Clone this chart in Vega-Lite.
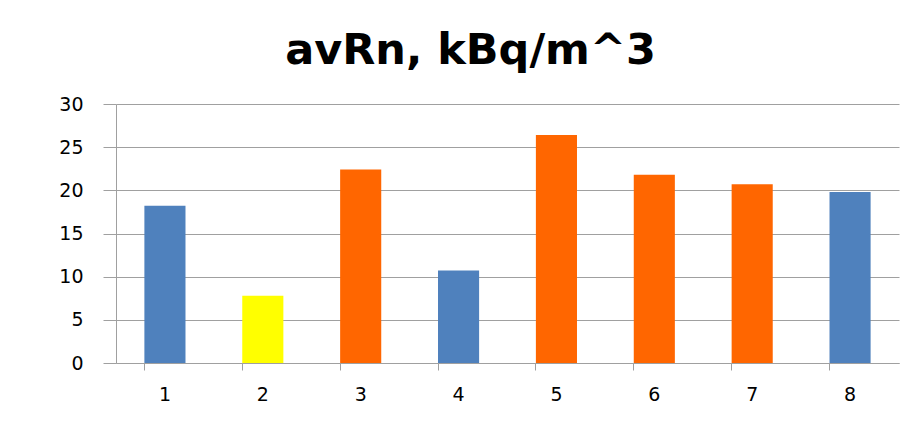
{
  "$schema": "https://vega.github.io/schema/vega-lite/v6.json",
  "width": 783,
  "height": 259,
  "autosize": "none",
  "padding": {"left": 116, "top": 104, "right": 18, "bottom": 67},
  "background": "white",
  "title": {
    "text": "avRn, kBq/m^3",
    "font": "DejaVu Sans",
    "fontSize": 43,
    "fontWeight": "bold",
    "color": "black",
    "anchor": "middle",
    "dx": -37,
    "offset": 22
  },
  "data": {
    "values": [
      {"n": "1", "value": 18.2, "group": "blue"},
      {"n": "2", "value": 7.8, "group": "yellow"},
      {"n": "3", "value": 22.4, "group": "orange"},
      {"n": "4", "value": 10.7, "group": "blue"},
      {"n": "5", "value": 26.4, "group": "orange"},
      {"n": "6", "value": 21.8, "group": "orange"},
      {"n": "7", "value": 20.7, "group": "orange"},
      {"n": "8", "value": 19.8, "group": "blue"}
    ]
  },
  "mark": {"type": "bar"},
  "encoding": {
    "x": {
      "field": "n",
      "type": "ordinal",
      "scale": {"paddingInner": 0.58, "paddingOuter": 0.29},
      "axis": {
        "title": null,
        "labelAngle": 0,
        "labelFont": "DejaVu Sans",
        "labelFontSize": 19,
        "labelColor": "black",
        "labelPadding": 15,
        "bandPosition": 0,
        "tickSize": 7,
        "tickColor": "#a0a0a0",
        "domainColor": "#a0a0a0",
        "grid": false
      }
    },
    "y": {
      "field": "value",
      "type": "quantitative",
      "scale": {"domain": [0, 30], "nice": false},
      "axis": {
        "title": null,
        "values": [0, 5, 10, 15, 20, 25, 30],
        "labelFont": "DejaVu Sans",
        "labelFontSize": 19,
        "labelColor": "black",
        "labelPadding": 20,
        "tickSize": 13,
        "tickColor": "#a0a0a0",
        "domainColor": "#a0a0a0",
        "gridColor": "#a0a0a0",
        "gridOpacity": 1
      }
    },
    "color": {
      "field": "group",
      "type": "nominal",
      "scale": {"domain": ["blue", "yellow", "orange"], "range": ["#4F81BD", "#FFFF00", "#FF6600"]},
      "legend": null
    }
  },
  "config": {"view": {"stroke": null}}
}
